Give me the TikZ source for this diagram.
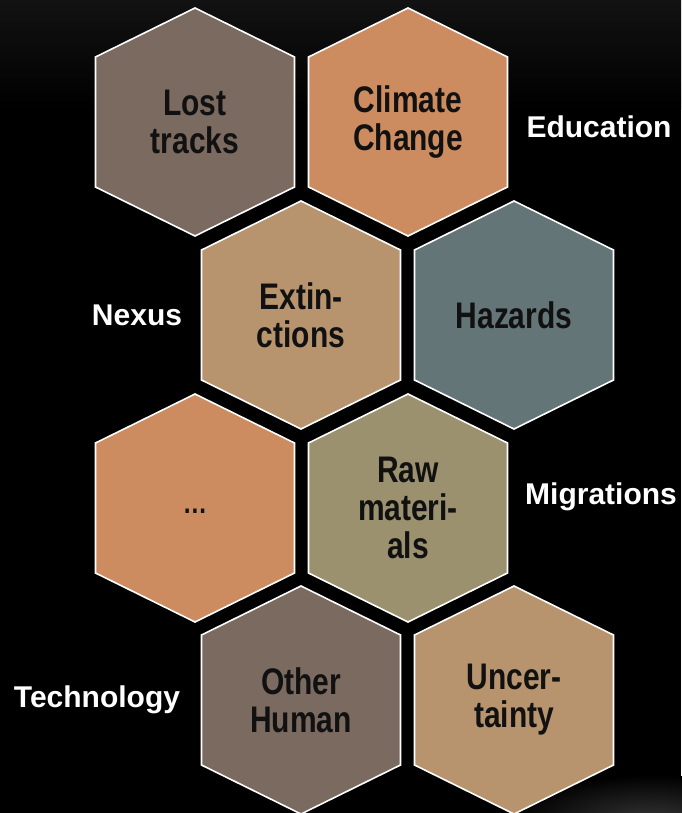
\documentclass[tikz,border=0pt]{standalone}
\usepackage{fontspec}
\setmainfont{Liberation Sans}
\newfontfamily\narrowfont{Liberation Sans}[FakeStretch=0.81]
\definecolor{cgrey}{HTML}{7A6A60}
\definecolor{corange}{HTML}{CD8C60}
\definecolor{ctan}{HTML}{B8946E}
\definecolor{cslate}{HTML}{637576}
\definecolor{colive}{HTML}{9C916E}
\definecolor{ctext}{HTML}{111111}
\tikzset{
  hexfill/.style={draw=white, line width=1.6pt, line join=miter},
  hextext/.style={text=ctext, font=\narrowfont\bfseries\fontsize{37}{38}\selectfont, align=center, inner sep=0pt},
  sidelabel/.style={text=white, font=\bfseries\fontsize{30}{32}\selectfont, inner sep=0pt}
}
\newcommand{\hexat}[3]{% x, y, colour
  \fill[#3] (#1,#2-114) -- (#1+99.5,#2-65) -- (#1+99.5,#2+65) -- (#1,#2+114) -- (#1-99.5,#2+65) -- (#1-99.5,#2-65) -- cycle;
  \draw[hexfill] (#1,#2-114) -- (#1+99.5,#2-65) -- (#1+99.5,#2+65) -- (#1,#2+114) -- (#1-99.5,#2+65) -- (#1-99.5,#2-65) -- cycle;
}
\begin{document}
\begin{tikzpicture}[x=1pt,y=-1pt]
\useasboundingbox (0,0) rectangle (681,813);
\fill[black] (0,0) rectangle (681,813);
\shade[top color=black!93!white, bottom color=black] (0,0) rectangle (681,110);
\shade[inner color=black!80!white, outer color=black] (650,820) ellipse (140 and 45);
% hexagons
\hexat{195}{122}{cgrey}
\hexat{408}{122}{corange}
\hexat{301}{315}{ctan}
\hexat{514}{315}{cslate}
\hexat{195}{508}{corange}
\hexat{408}{508}{colive}
\hexat{301}{700}{cgrey}
\hexat{514}{700}{ctan}
% texts
\node[hextext] (lost) at (195,122) {Lost\\tracks};
\node[hextext] (climate) at (408,122) {Climate\\Change};
\node[hextext] (extinct) at (301,315) {Extin-\\ctions};
\node[hextext] (hazards) at (514,315) {Hazards};
\node[hextext] (dots) at (195,511) {\fontsize{30}{30}\selectfont\ldots};
\node[hextext] (raw) at (408,508) {Raw\\materi-\\als};
\node[hextext] (other) at (301,700) {Other\\Human};
\node[hextext] (uncert) at (514,700) {Uncer-\\tainty};
% side labels
\node[sidelabel] (education) at (599,127) {Education};
\node[sidelabel] (nexus) at (137,315) {Nexus};
\node[sidelabel] (migrations) at (601,497) {Migrations};
\node[sidelabel] (technology) at (97,700) {Technology};
\end{tikzpicture}
\end{document}
